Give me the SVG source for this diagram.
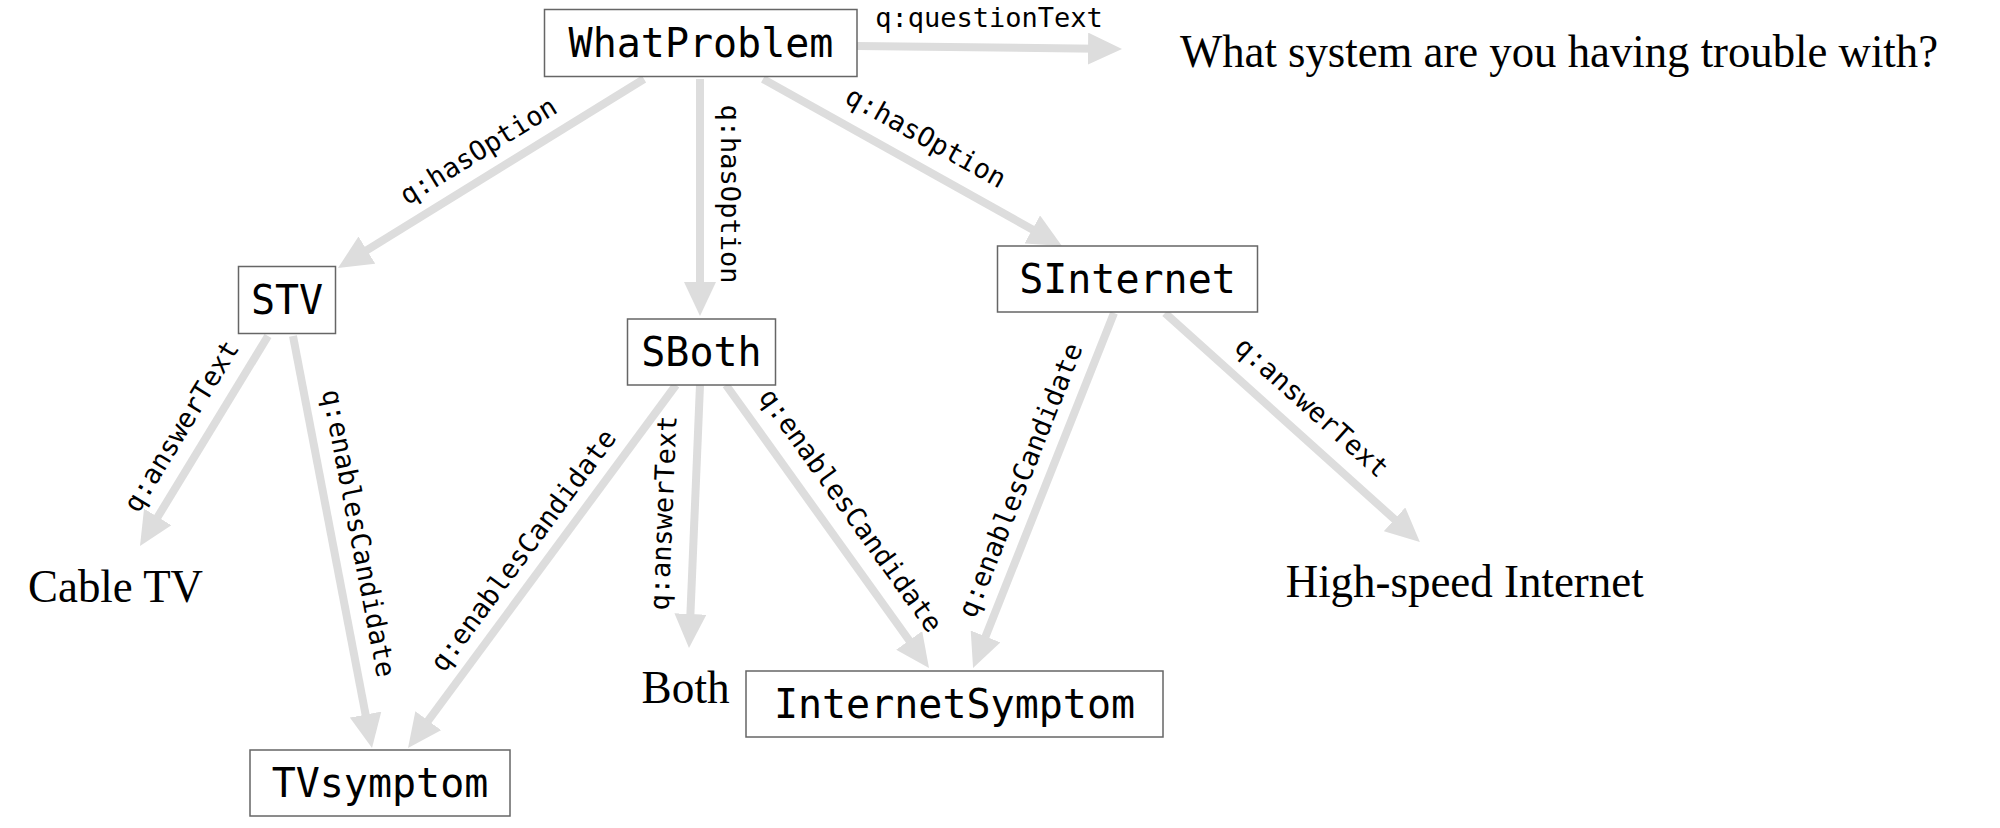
<svg xmlns="http://www.w3.org/2000/svg" width="2000" height="828" viewBox="0 0 2000 828">
<style>
.box{fill:#fff;stroke:#666;stroke-width:1.5}
.nt{font-family:"DejaVu Sans Mono",monospace;font-size:40px;fill:#000;text-anchor:middle}
.lt{font-family:"DejaVu Sans Mono",monospace;font-size:27px;fill:#000;text-anchor:middle;dominant-baseline:central}
.st{font-family:"Liberation Serif",serif;font-size:47px;fill:#000}
.e{stroke:#dddddd;stroke-width:8;fill:none;marker-end:url(#ah)}
</style>
<defs>
<marker id="ah" markerUnits="userSpaceOnUse" markerWidth="34" markerHeight="32" refX="10" refY="16" orient="auto">
<path d="M0,0 L34,16 L0,32 z" fill="#dddddd"/>
</marker>
</defs>
<rect width="2000" height="828" fill="#fff"/>
<g id="connectors">
<line class="e" x1="857" y1="46" x2="1098" y2="48.7"/>
<line class="e" x1="644" y1="79" x2="358.4" y2="255.4"/>
<line class="e" x1="700" y1="79" x2="700" y2="292"/>
<line class="e" x1="763" y1="79" x2="1041" y2="234.3"/>
<line class="e" x1="268" y1="336" x2="152.5" y2="525.5"/>
<line class="e" x1="293" y1="336" x2="367.5" y2="724.4"/>
<line class="e" x1="676" y1="385" x2="422.3" y2="728.7"/>
<line class="e" x1="700" y1="385" x2="690" y2="624"/>
<line class="e" x1="726" y1="385" x2="915" y2="648.5"/>
<line class="e" x1="1114" y1="313" x2="981.9" y2="645.7"/>
<line class="e" x1="1165" y1="313" x2="1402" y2="526"/>
<text class="lt" x="989" y="17">q:questionText</text>
<text class="lt" transform="translate(478,150.5) rotate(-31.7)">q:hasOption</text>
<text class="lt" transform="translate(730,194) rotate(90)">q:hasOption</text>
<text class="lt" transform="translate(926,137) rotate(29.2)">q:hasOption</text>
<text class="lt" transform="translate(181,426) rotate(-58.6)">q:answerText</text>
<text class="lt" transform="translate(359,533) rotate(79.1)">q:enablesCandidate</text>
<text class="lt" transform="translate(523,550) rotate(-53.6)">q:enablesCandidate</text>
<text class="lt" transform="translate(663,513) rotate(-87.6)">q:answerText</text>
<text class="lt" transform="translate(851,510) rotate(54.3)">q:enablesCandidate</text>
<text class="lt" transform="translate(1020,480) rotate(-68.3)">q:enablesCandidate</text>
<text class="lt" transform="translate(1312,407) rotate(41.9)">q:answerText</text>
</g>
<g id="WhatProblem"><rect class="box" x="544.5" y="9.5" width="312.5" height="67"/><text class="nt" x="701" y="56.5">WhatProblem</text></g>
<g id="STV"><rect class="box" x="238.5" y="266.5" width="97" height="67"/><text class="nt" x="287" y="314">STV</text></g>
<g id="SBoth"><rect class="box" x="627.5" y="319" width="148" height="66"/><text class="nt" x="701.5" y="366">SBoth</text></g>
<g id="SInternet"><rect class="box" x="997.5" y="246" width="260" height="66"/><text class="nt" x="1127.5" y="293">SInternet</text></g>
<g id="TVsymptom"><rect class="box" x="250" y="750" width="260" height="66"/><text class="nt" x="380" y="797">TVsymptom</text></g>
<g id="InternetSymptom"><rect class="box" x="746" y="671" width="417" height="66"/><text class="nt" x="954.5" y="718">InternetSymptom</text></g>
<g id="questionText"><text class="st" x="1180" y="66.5" textLength="758" lengthAdjust="spacingAndGlyphs">What system are you having trouble with?</text></g>
<g id="CableTV"><text class="st" x="28" y="602" textLength="175" lengthAdjust="spacingAndGlyphs">Cable TV</text></g>
<g id="Both"><text class="st" x="641.6" y="703" textLength="88" lengthAdjust="spacingAndGlyphs">Both</text></g>
<g id="HighSpeed"><text class="st" x="1285.7" y="597" textLength="358" lengthAdjust="spacingAndGlyphs">High-speed Internet</text></g>
</svg>
